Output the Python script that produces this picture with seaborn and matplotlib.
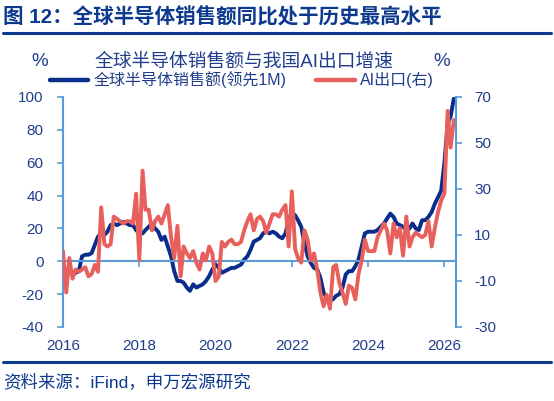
import numpy as np
import pandas as pd
import matplotlib
matplotlib.use("Agg")
import matplotlib.pyplot as plt
import matplotlib.dates as mdates
from matplotlib.lines import Line2D
import seaborn as sns

# 全球半导体销售额同比(领先1M), %, 2016-01 ~ 2026-04 月度
semi_sales = [
    -5, -5, -6, -8, -7, -6, 3, 4, 4, 5, 10, 15,
    17, 16, 18, 22, 23, 22, 23, 24, 23, 22, 22, 19,
    17, 17, 19, 21, 23, 20, 18, 13, 15, 9, 3, -6,
    -12, -12, -13, -16, -18, -14, -16, -15, -14, -12, -9, -5,
    -2, -4, -7, -6, -5, -4, -4, -3, -2, 1, 3, 7,
    12, 13, 14, 17, 18, 17, 18, 17, 15, 14, 17, 25,
    30, 28, 25, 21, 11, 3, -1, -4, -5, -10, -19, -22,
    -24, -23, -21, -20, -16, -8, -6, -6, -3, 1, 9, 17,
    18, 18, 18, 19, 21, 23, 26, 29, 27, 23, 22, 21,
    19, 20, 23, 20, 19, 25, 25, 27, 30, 35, 39, 43,
    60, 84, 88, 99,
]
# AI出口同比(右轴), %
ai_export = [
    3, -15, 0, -9, -5, -6, -5, -4, -8, -7, -3, -6,
    22, 6, 5, 6, 18, 17, 16, 15, 16, 16, 15, 28,
    -1, 38, 21, 21, 12, 16, 18, 15, 19, 23, 9, 0,
    14, -8, 5, 2, 0, 3, -2, -5, 2, -1, 5, 2,
    -10, -8, 7, 5, 7, 8, 6, 6, 7, 12, 16, 19,
    12, 17, 18, 16, 11, 15, 19, 19, 18, 21, 23, 5,
    29, 4, 0, -2, 12, 8, -1, 2, -5, -15, -21, -16,
    -22, -4, -3, -11, -15, -20, -12, -13, -18, -7, -1, 8,
    3, 3, 3, 9, 12, 15, 12, 2, 15, 9, 13, 1,
    18, 5, 9, 11, 10, 9, 10, 16, 5, 13, 20, 25,
    28, 64, 48, 60,
]
years_ticks = ["2016", "2018", "2020", "2022", "2024", "2026"]
left_ticks = [-40, -20, 0, 20, 40, 60, 80, 100]
right_ticks = [-30, -10, 10, 30, 50, 70]

dates = pd.date_range("2016-01-01", periods=len(semi_sales), freq="MS")
df = pd.DataFrame({"date": dates, "semi": semi_sales, "ai": ai_export})

BLUE = "#0A2C8A"
RED = "#E8605C"
NAVY = "#0D3A8E"
TXT = "#1F3D8C"
SPINE = "#5B9BD5"

sns.set_style("white")
plt.rcParams["font.family"] = ["Liberation Sans", "Noto Sans CJK SC", "DejaVu Sans"]
plt.rcParams["axes.unicode_minus"] = False

W, H = 554, 401
fig = plt.figure(figsize=(W / 100, H / 100), dpi=100)
ax = fig.add_axes([63 / W, 1 - 327 / H, (456 - 63) / W, (327 - 97) / H])
ax2 = ax.twinx()

sns.lineplot(data=df, x="date", y="semi", ax=ax, color=BLUE, lw=2.8, legend=False)
sns.lineplot(data=df, x="date", y="ai", ax=ax2, color=RED, lw=2.8, legend=False)

ax.set_xlim(pd.Timestamp("2016-01-01"), pd.Timestamp("2026-04-22"))
ax.set_ylim(-40, 100)
ax2.set_ylim(-30, 70)
ax.set_yticks(left_ticks)
ax2.set_yticks(right_ticks)
ax.set_xticks(pd.to_datetime([y + "-01-01" for y in years_ticks]))
ax.xaxis.set_major_formatter(mdates.DateFormatter("%Y"))
for a in (ax, ax2):
    a.set_xlabel("")
    a.set_ylabel("")
    a.set_facecolor("none")
    for s in a.spines.values():
        s.set_visible(False)

ax.spines["left"].set_visible(True)
ax.spines["left"].set_color(SPINE)
ax.spines["left"].set_linewidth(1.5)
ax.spines["bottom"].set_visible(True)
ax.spines["bottom"].set_position(("data", 0))
ax.spines["bottom"].set_color(SPINE)
ax.spines["bottom"].set_linewidth(1.5)
ax2.spines["right"].set_visible(True)
ax2.spines["right"].set_color(SPINE)
ax2.spines["right"].set_linewidth(1.5)

ax.tick_params(axis="y", left=True, length=4, width=1.2, color=SPINE,
               labelsize=11, labelcolor=TXT, pad=10)
ax.tick_params(axis="x", bottom=True, length=4, width=1.2, color=SPINE,
               labelsize=11, labelcolor=TXT, pad=52)
ax2.tick_params(axis="y", right=True, length=4, width=1.2, color=SPINE,
                labelsize=11, labelcolor=TXT, pad=9)

# 标题与分隔线
fig.text(3 / W, 1 - 16 / H, "图 12：全球半导体销售额同比处于历史最高水平",
         fontsize=14.8, fontweight="bold", color=NAVY, va="center", ha="left")
fig.add_artist(Line2D([3 / W, 551 / W], [1 - 33 / H] * 2, color=NAVY, lw=2.2))
fig.add_artist(Line2D([3 / W, 551 / W], [1 - 362 / H] * 2, color=NAVY, lw=2.2))
fig.text(3 / W, 1 - 383 / H, "资料来源：iFind，申万宏源研究",
         fontsize=12.6, color=NAVY, va="center", ha="left")

fig.text(244 / W, 1 - 62 / H, "全球半导体销售额与我国AI出口增速",
         fontsize=13.5, color=TXT, va="center", ha="center")
fig.text(40 / W, 1 - 62 / H, "%", fontsize=13.5, color=TXT, va="center", ha="center")
fig.text(442 / W, 1 - 62 / H, "%", fontsize=13.5, color=TXT, va="center", ha="center")

handles = [Line2D([], [], color=BLUE, lw=3.2), Line2D([], [], color=RED, lw=3.2)]
fig.legend(handles, ["全球半导体销售额(领先1M)", "AI出口(右)"], ncol=2,
           loc="center left", bbox_to_anchor=(50 / W, 1 - 80 / H), frameon=False,
           fontsize=11.5, labelcolor=TXT, handlelength=2.4, handletextpad=0.3,
           columnspacing=1.9, borderpad=0, borderaxespad=0)

fig.savefig("out.png", dpi=100)
